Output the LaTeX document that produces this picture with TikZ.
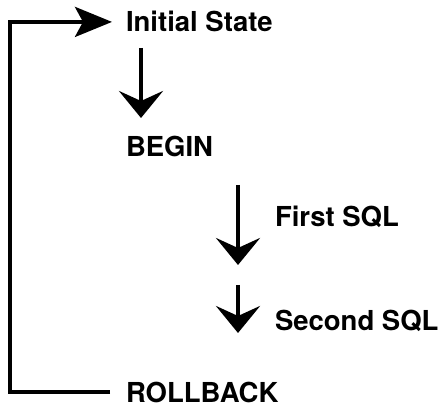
\documentclass[tikz,border=0pt]{standalone}
\usepackage{fontspec}
\setmainfont{TeX Gyre Heros}
\usetikzlibrary{arrows.meta,calc}

\begin{document}
\begin{tikzpicture}[x=1pt,y=1pt]

\tikzset{step label/.style={anchor=base west,inner sep=0pt,outer sep=0pt,
        font=\fontsize{27.5}{32}\selectfont\bfseries},
    down/.style={line width=4pt,-{Stealth[length=27pt,width=44pt,inset=10pt]}},
    back/.style={line width=4pt,-{Stealth[length=37pt,width=30pt,inset=8pt]}}}

\useasboundingbox (0,0) rectangle (444,407);

\node[step label] (init) at (126,375) {Initial State};
\node[step label] (begin) at (126,250) {BEGIN};
\node[step label] (first) at (275,180) {First SQL};
\node[step label] (second) at (275,77) {Second SQL};
\node[step label] (rollback) at (126,5) {ROLLBACK};

\draw[down] ([shift={(15,-16)}]init.base west) -- ([shift={(15,39)}]begin.base west);
\draw[down] ([shift={(-37,42)}]first.base west) -- ([shift={(-37,-38)}]first.base west);
\draw[down] ([shift={(-37,45)}]second.base west) -- ([shift={(-37,-3)}]second.base west);

% rollback goes back to the start
\draw[back,shorten <=16pt,shorten >=14pt] (rollback.west) -- ++(-116,0) |- (init.west);

\end{tikzpicture}
\end{document}
